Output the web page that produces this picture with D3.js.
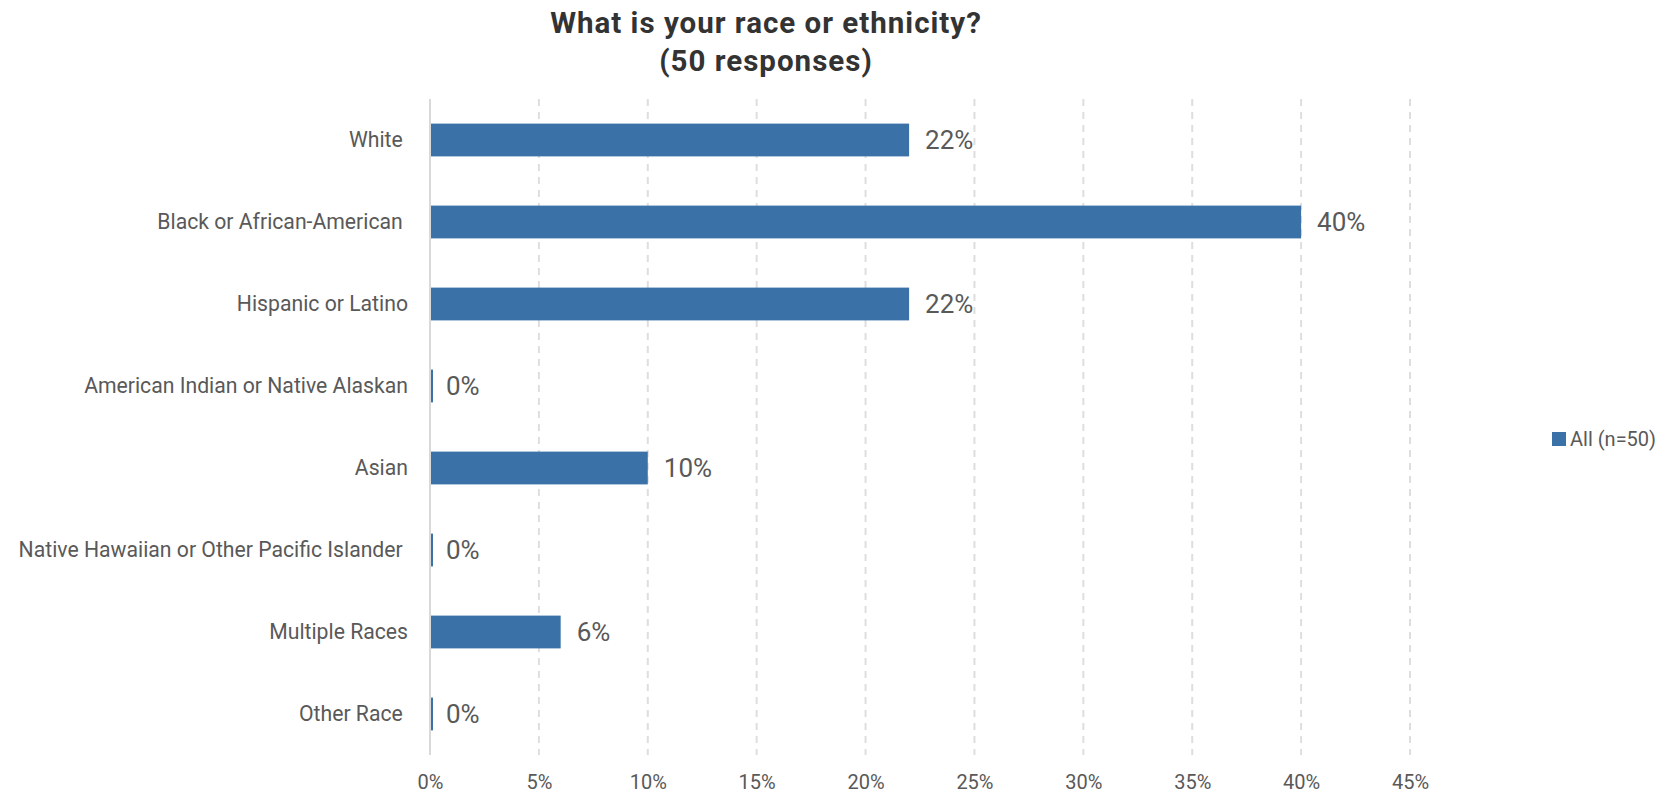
<!DOCTYPE html>
<html>
<head>
<meta charset="utf-8">
<script src="https://cdn.jsdelivr.net/npm/d3@7"></script>
<style>
  html, body { margin: 0; padding: 0; background: #fff; }
  svg { display: block; font-family: Roboto, "Noto Sans", sans-serif; }
  text { white-space: pre; }
</style>
</head>
<body>
<svg id="chart" width="1665" height="793"></svg>
<script>
// Survey answers: share of respondents per race / ethnicity
const categories = [
  "White ",
  "Black or African-American ",
  "Hispanic or Latino",
  "American Indian or Native Alaskan",
  "Asian",
  "Native Hawaiian or Other Pacific Islander ",
  "Multiple Races",
  "Other Race "
];
const values = [0.22, 0.40, 0.22, 0.00, 0.10, 0.00, 0.06, 0.00];
const tickValues = [0, 0.05, 0.10, 0.15, 0.20, 0.25, 0.30, 0.35, 0.40, 0.45];
const titleLines = ["What is your race or ethnicity?", "(50 responses)"];
const seriesName = "All (n=50)";

const barColor = "#3a72a8";
const textColor = "#595959";
const gridColor = "#dedede";

const svg = d3.select("#chart");
const plot = { left: 430, right: 1410, top: 99, bottom: 755 };

const x = d3.scaleLinear().domain([0, 0.45]).range([plot.left, plot.right]);
const y = d3.scaleBand().domain(categories).range([plot.top, plot.bottom])
  .paddingInner(0.6).paddingOuter(0.3);

const pct = d3.format(".0%");

// Title
svg.append("g").selectAll("text").data(titleLines).join("text")
  .attr("x", 766)
  .attr("y", (d, i) => 33 + i * 38)
  .attr("text-anchor", "middle")
  .attr("font-size", 29.5)
  .attr("letter-spacing", 1)
  .attr("font-weight", 700)
  .attr("fill", "#333333")
  .text(d => d);

// Vertical dashed gridlines
svg.append("g").selectAll("line").data(tickValues.slice(1)).join("line")
  .attr("x1", d => x(d)).attr("x2", d => x(d))
  .attr("y1", plot.top).attr("y2", plot.bottom)
  .attr("stroke", gridColor)
  .attr("stroke-width", 2)
  .attr("stroke-dasharray", "7,6");

// Category axis line
svg.append("line")
  .attr("x1", x(0)).attr("x2", x(0))
  .attr("y1", plot.top).attr("y2", plot.bottom)
  .attr("stroke", "#d9d9d9").attr("stroke-width", 2);

// Bottom value axis (labels only)
const xAxis = d3.axisBottom(x).tickValues(tickValues).tickFormat(pct).tickSize(0).tickPadding(0);
const gx = svg.append("g").attr("transform", `translate(0, ${plot.bottom + 20})`).call(xAxis);
gx.select(".domain").remove();
gx.selectAll("text")
  .attr("font-family", "Roboto, sans-serif")
  .attr("font-size", 20)
  .attr("fill", textColor)
  .attr("dy", "0.35em")
  .attr("y", 7);

// Category labels
const yAxis = d3.axisLeft(y).tickSize(0).tickPadding(0);
const gy = svg.append("g").attr("transform", `translate(${plot.left - 22}, 0)`).call(yAxis);
gy.select(".domain").remove();
gy.selectAll("text")
  .attr("font-family", "Roboto, sans-serif")
  .attr("font-size", 21.2)
  .attr("fill", textColor);

// Bars (a hairline stays visible for 0%)
svg.append("g").selectAll("rect").data(values).join("rect")
  .attr("x", x(0) + 1)
  .attr("y", (d, i) => y(categories[i]))
  .attr("width", d => Math.max(x(d) - x(0) - 1, 2))
  .attr("height", y.bandwidth())
  .attr("fill", barColor);

// Value labels
svg.append("g").selectAll("text").data(values).join("text")
  .attr("x", d => x(d) + 16)
  .attr("y", (d, i) => y(categories[i]) + y.bandwidth() / 2)
  .attr("dy", "0.35em")
  .attr("font-size", 26)
  .attr("fill", textColor)
  .text(d => pct(d));

// Legend
const lg = svg.append("g").attr("transform", "translate(1552, 439)");
lg.append("rect").attr("x", 0).attr("y", -7).attr("width", 14).attr("height", 14).attr("fill", barColor);
lg.append("text").attr("x", 18).attr("dy", "0.35em")
  .attr("font-size", 20).attr("fill", textColor).text(seriesName);
</script>
</body>
</html>
